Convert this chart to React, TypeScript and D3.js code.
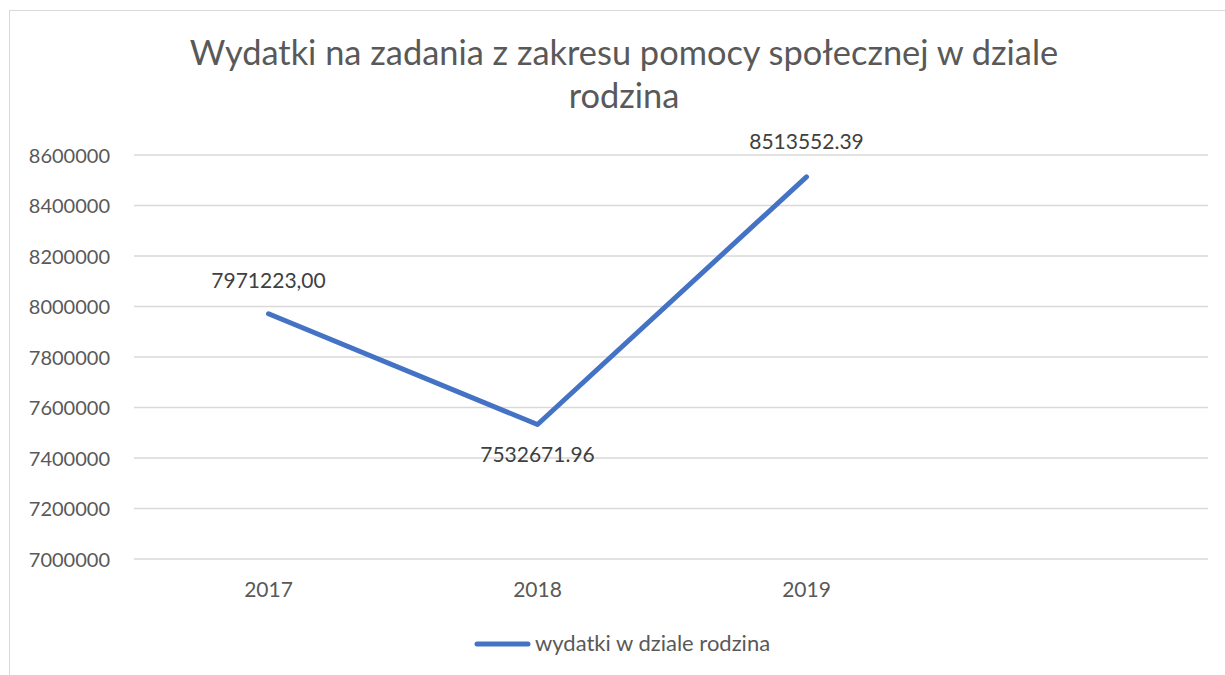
import React from "react";
import * as d3 from "d3";

const categories = ["2017", "2018", "2019", ""];
const values: (number | null)[] = [7971223.0, 7532671.96, 8513552.39, null];
const valueLabels = ["7971223,00", "7532671.96", "8513552.39"];
const yTicks = [7000000, 7200000, 7400000, 7600000, 7800000, 8000000, 8200000, 8400000, 8600000];
const titleLines = ["Wydatki na zadania z zakresu pomocy społecznej w dziale", "rodzina"];
const seriesName = "wydatki w dziale rodzina";

const W = 1225;
const H = 675;
const FONT = "Lato, 'Open Sans', sans-serif";
const TEXT = "#595959";
const LINE = "#4472C4";

export default function App() {
  const x = d3.scaleBand<string>().domain(categories).range([134, 1210]);
  const y = d3.scaleLinear().domain([7000000, 8600000]).range([559, 155]);
  const pts = categories
    .map((c, i) => ({ c, v: values[i], i }))
    .filter((d) => d.v !== null) as { c: string; v: number; i: number }[];
  const line = d3
    .line<{ c: string; v: number }>()
    .x((d) => (x(d.c) as number) + x.bandwidth() / 2)
    .y((d) => y(d.v));
  const labelOffsets = [-26, 37.5, -28];

  return (
    <svg
      width={W}
      height={H}
      style={{ position: "absolute", left: 0, top: 0 }}
      fontFamily={FONT}
    >
      <rect x={0} y={0} width={W} height={H} fill="#fff" />
      <rect x={9.5} y={10.5} width={W + 10} height={H + 20} fill="#fff" stroke="#d9d9d9" strokeWidth={1} />
      {titleLines.map((t, i) => (
        <text key={i} x={624} y={65 + i * 43} textAnchor="middle" fontSize={34.4} fill={TEXT}>
          {t}
        </text>
      ))}
      {yTicks.map((t) => (
        <g key={t}>
          <line x1={134} x2={1208} y1={y(t)} y2={y(t)} stroke="#d9d9d9" strokeWidth={1.5} />
          <text x={110} y={y(t) + 7.5} textAnchor="end" fontSize={20} fill={TEXT}>
            {t}
          </text>
        </g>
      ))}
      {categories.map((c) =>
        c ? (
          <text
            key={c}
            x={(x(c) as number) + x.bandwidth() / 2}
            y={597}
            textAnchor="middle"
            fontSize={21}
            fill={TEXT}
          >
            {c}
          </text>
        ) : null
      )}
      <path
        d={line(pts) || ""}
        fill="none"
        stroke={LINE}
        strokeWidth={5}
        strokeLinecap="round"
        strokeLinejoin="round"
      />
      {pts.map((d, k) => (
        <text
          key={d.c}
          x={(x(d.c) as number) + x.bandwidth() / 2}
          y={y(d.v) + labelOffsets[k]}
          textAnchor="middle"
          fontSize={21}
          fill="#404040"
        >
          {valueLabels[k]}
        </text>
      ))}
      <line x1={477} x2={528} y1={644} y2={644} stroke={LINE} strokeWidth={5} strokeLinecap="round" />
      <text x={535} y={651} fontSize={22} fill={TEXT}>
        {seriesName}
      </text>
    </svg>
  );
}
